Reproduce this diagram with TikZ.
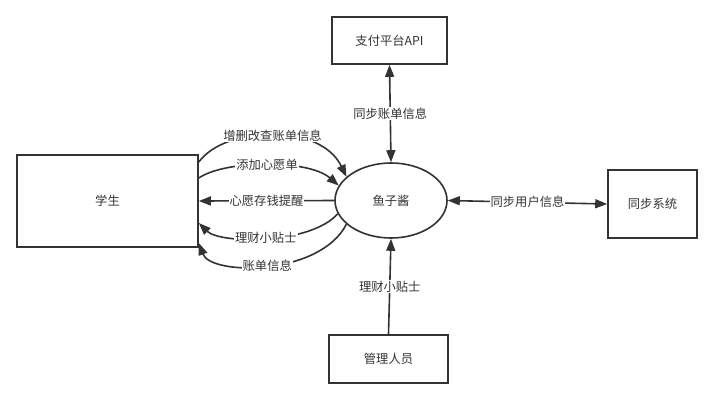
\documentclass[tikz,border=0pt]{standalone}
\usepackage{fontspec}
\setmainfont{Noto Sans CJK SC}
\usetikzlibrary{shapes.geometric,arrows.meta}
\definecolor{ink}{HTML}{333333}
\tikzset{
  box/.style={draw=ink,line width=1.6pt,rectangle,inner sep=0pt,text=ink,font=\fontsize{12.3}{14}\selectfont},
  proc/.style={draw=ink,line width=1.6pt,ellipse,inner sep=0pt,text=ink,font=\fontsize{12.3}{14}\selectfont},
  flow/.style={draw=ink,line width=1.6pt,-{Triangle[length=12pt,width=9pt]}},
  biflow/.style={draw=ink,line width=1.6pt,{Triangle[length=12pt,width=9pt]}-{Triangle[length=12pt,width=9pt]}},
  lab/.style={fill=white,inner sep=1pt,text=ink,font=\fontsize{12.3}{14}\selectfont}
}
\begin{document}
\begin{tikzpicture}[x=1pt,y=-1pt]
\useasboundingbox (0,0) rectangle (719,405);
\node[box,minimum width=181pt,minimum height=92pt] (stu) at (107.5,201) {学生};
\node[box,minimum width=115pt,minimum height=47pt] (api) at (389.5,40.5) {支付平台API};
\node[proc,minimum width=112pt,minimum height=75pt] (fish) at (391,200.5) {鱼子酱};
\node[box,minimum width=89pt,minimum height=68pt] (sync) at (652.5,204) {同步系统};
\node[box,minimum width=119pt,minimum height=48pt] (adm) at (388.5,359) {管理人员};

\draw[biflow] (api.south) -- (fish.north) node[lab,midway] {同步账单信息};
\draw[flow] (adm.north) -- (fish.south) node[lab,midway] {理财小贴士};
\draw[biflow] (fish.east) -- (sync.west) node[lab,midway] {同步用户信息};

\draw[flow] ([yshift=39pt]stu.east) .. controls (225,126) and (320,122) .. (fish.152)
  node[lab,pos=0.5] {增删改查账单信息};
\draw[flow] ([yshift=23pt]stu.east) .. controls (225,160) and (308,159) .. (fish.164)
  node[lab,pos=0.5] {添加心愿单};
\draw[flow] (fish.180) -- ([yshift=0pt]stu.east) node[lab,midway] {心愿存钱提醒};
\draw[flow] (fish.194) .. controls (310,245) and (220,244) .. ([yshift=-22pt]stu.east)
  node[lab,pos=0.5] {理财小贴士};
\draw[flow] (fish.208) .. controls (320,276) and (211,276) .. ([yshift=-42pt]stu.east)
  node[lab,pos=0.5] {账单信息};
\end{tikzpicture}
\end{document}
